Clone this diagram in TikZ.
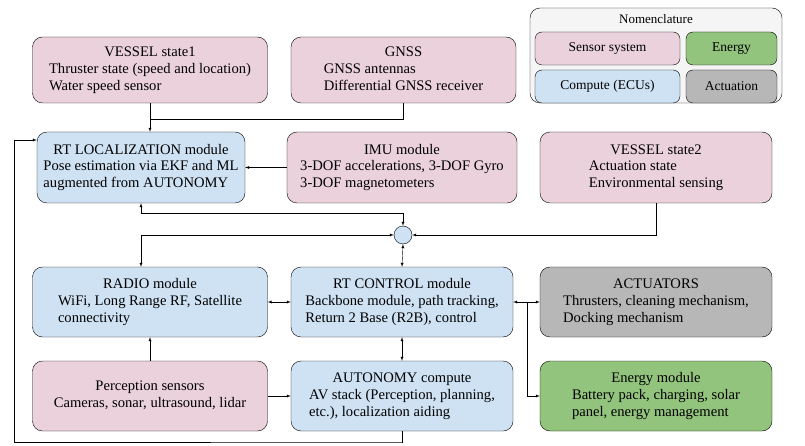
\documentclass[tikz,border=0pt]{standalone}
\usepackage{fontspec}
\setmainfont{Liberation Serif}
\usepackage{tikz}
\usetikzlibrary{positioning,calc}

\definecolor{sensorpink}{HTML}{EAD1DC}
\definecolor{computeblue}{HTML}{CFE2F3}
\definecolor{energygreen}{HTML}{93C47D}
\definecolor{actgray}{HTML}{B7B7B7}

\newcommand{\blocktext}[2]{\begin{tabular}{@{}l@{}}\multicolumn{1}{@{}c@{}}{#1}\\#2\end{tabular}}

\begin{document}
\begin{tikzpicture}[
    x=1pt, y=-1pt,
    font=\fontsize{14.6}{19}\selectfont,
    block/.style={rectangle, draw=black, rounded corners=10pt, minimum width=235pt, minimum height=66pt, inner sep=0pt},
    sensor/.style={block, fill=sensorpink},
    compute/.style={block, fill=computeblue},
    energy/.style={block, fill=energygreen},
    actuation/.style={block, fill=actgray},
    legend/.style={rectangle, draw=black, rounded corners=7pt, minimum height=33pt, inner sep=0pt, font=\fontsize{13.5}{16}\selectfont},
    arrow/.style={-latex, thin},
    biarrow/.style={latex-latex, thin}
]
    \useasboundingbox (0,0) rectangle (805,446);
    \renewcommand{\arraystretch}{0.88}

    % Nomenclature
    \node[draw=black, fill=gray!8, rounded corners=10pt, minimum width=252pt, minimum height=95pt] (nomen) at (656,55.5) {};
    \node[font=\fontsize{13}{15}\selectfont] (nomtitle) at (656,19) {Nomenclature};
    \node[legend, fill=sensorpink, minimum width=145pt] (legsensor) at (607.5,48.5) {Sensor system};
    \node[legend, fill=energygreen, minimum width=91pt] (legenergy) at (731.5,48.5) {Energy};
    \node[legend, fill=computeblue, minimum width=145pt] (legcompute) at (607.5,86.5) {Compute (ECUs)};
    \node[legend, fill=actgray, minimum width=91pt] (legact) at (731.5,86.5) {Actuation};

    % Top row
    \node[sensor] (vessel1) at (150,70) {\blocktext{VESSEL state1}{Thruster state (speed and location)\\Water speed sensor}};
    \node[sensor, minimum width=225pt] (gnss) at (403.5,70) {\blocktext{GNSS}{GNSS antennas\\Differential GNSS receiver}};

    % Second row
    \node[compute, minimum width=208pt, minimum height=71pt] (loc) at (141,167.5) {\blocktext{RT LOCALIZATION module}{Pose estimation via EKF and ML\\augmented from AUTONOMY}};
    \node[sensor, minimum width=230pt, minimum height=71pt] (imu) at (402,167.5) {\blocktext{IMU module}{3-DOF accelerations, 3-DOF Gyro\\3-DOF magnetometers}};
    \node[sensor, minimum width=232pt, minimum height=71pt] (vessel2) at (656,167.5) {\blocktext{VESSEL state2}{Actuation state\\Environmental sensing}};

    % Junction
    \node[circle, draw=black, fill=computeblue, minimum size=18pt, inner sep=0pt] (hub) at (403,235) {};

    % Third row
    \node[compute, minimum height=70pt] (radio) at (150,302) {\blocktext{RADIO module}{WiFi, Long Range RF, Satellite\\connectivity}};
    \node[compute, minimum width=222pt, minimum height=70pt] (control) at (402,302) {\blocktext{RT CONTROL module}{Backbone module, path tracking,\\Return 2 Base (R2B), control}};
    \node[actuation, minimum width=232pt, minimum height=70pt] (actuators) at (656,302) {\blocktext{ACTUATORS}{Thrusters, cleaning mechanism,\\Docking mechanism}};

    % Bottom row
    \node[sensor, minimum height=70pt] (percep) at (150,396) {\blocktext{Perception sensors}{Cameras, sonar, ultrasound, lidar}};
    \node[compute, minimum width=222pt, minimum height=70pt] (autonomy) at (402,396) {\blocktext{AUTONOMY compute}{AV stack (Perception, planning,\\etc.), localization aiding}};
    \node[energy, minimum width=232pt, minimum height=70pt] (energymod) at (656,396) {\blocktext{Energy module}{Battery pack, charging, solar\\panel, energy management}};

    % Helper points
    \coordinate (gnssjoin) at (150,119);
    \coordinate (locdrop) at (141,213);
    \coordinate (ctrlsplit) at (527,302);
    \coordinate (autoloop) at (403,442);
    \coordinate (leftrail) at (14,140);

    % Arrows
    \draw[arrow] (vessel1.south) -- (vessel1.south |- loc.north);
    \draw (gnss.south) |- (gnssjoin);
    \draw[arrow] (imu.west) -- (loc.east);
    \draw[biarrow] (loc.south) |- (locdrop) -| (hub.north);
    \draw[biarrow] (hub.west) -| (loc.south |- radio.north);
    \draw[arrow] (vessel2.south) |- (hub.east);
    \draw[biarrow] (hub.south) -- (control.north);
    \draw[biarrow] (radio.east) -- (control.west);
    \draw[biarrow] (control.east) -- (actuators.west);
    \draw[arrow] (ctrlsplit) |- (energymod.west);
    \draw[biarrow] (control.south) -- (autonomy.north);
    \draw[arrow] (percep.east) -- (autonomy.west);
    \draw[arrow] (percep.north) -- (radio.south);
    \draw[arrow] (autonomy.south) |- (autoloop) -| (leftrail) -- (leftrail -| loc.west);
\end{tikzpicture}
\end{document}
